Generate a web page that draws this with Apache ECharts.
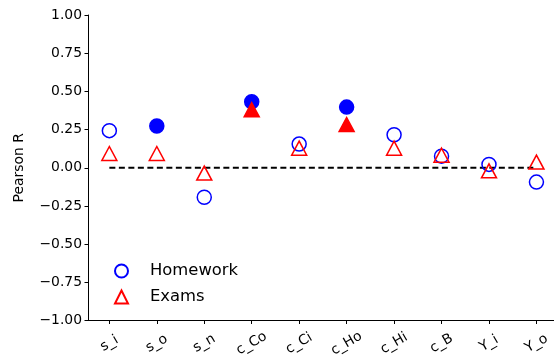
<!DOCTYPE html>
<html>
<head>
<meta charset="utf-8">
<script src="https://cdn.jsdelivr.net/npm/echarts@6/dist/echarts.min.js"></script>
<style>
  html, body { margin: 0; padding: 0; background: #fff; }
  #chart { width: 554px; height: 360px; }
</style>
</head>
<body>
<div id="chart"></div>
<script>
// Feature names along the x axis
const categories = ['s_i', 's_o', 's_n', 'c_Co', 'c_Ci', 'c_Ho', 'c_Hi', 'c_B', 'Y_i', 'Y_o'];

// Pearson correlation per feature
const homeworkR = [0.243, 0.273, -0.193, 0.432, 0.155, 0.397, 0.216, 0.076, 0.022, -0.094];
const examsR    = [0.093, 0.093, -0.035, 0.380, 0.128, 0.283, 0.128, 0.082, -0.020, 0.037];

// Significant correlations are drawn with filled markers
const homeworkSignificant = [false, true, false, true, false, true, false, false, false, false];
const examsSignificant    = [false, false, false, true, false, true, false, false, false, false];

// Y axis ticks
const yTicks = [-1, -0.75, -0.5, -0.25, 0, 0.25, 0.5, 0.75, 1];

const FONT = 'DejaVu Sans';
const BLUE = '#0000ff';
const RED = '#ff0000';
const idx = categories.map((_, i) => i);

function points(values, significant, color) {
  return values.map((v, i) => ({
    value: [i, v],
    itemStyle: significant[i]
      ? { color: color, borderColor: color, borderWidth: 1.5, opacity: 1 }
      : { color: 'rgba(0,0,0,0)', borderColor: color, borderWidth: 1.5, opacity: 1 }
  }));
}

const fmt = v => {
  const s = Math.abs(v).toFixed(2);
  return v < 0 ? '\u2212' + s : s;
};

const chart = echarts.init(document.getElementById('chart'), null, { renderer: 'canvas' });
chart.setOption({
  animation: false,
  backgroundColor: '#ffffff',
  textStyle: { fontFamily: FONT },
  grid: { left: 88, right: 0, top: 15, bottom: 39.5, containLabel: false },
  legend: {
    data: ['Homework', 'Exams'],
    orient: 'vertical',
    left: 109,
    top: 258,
    itemWidth: 13,
    itemHeight: 13,
    itemGap: 10,
    textStyle: { fontFamily: FONT, fontSize: 16.4, color: '#000', padding: [0, 0, 0, 17] }
  },
  xAxis: {
    type: 'value',
    min: -0.45,
    max: 9.37,
    axisLine: { show: true, onZero: false, lineStyle: { color: '#000', width: 1 } },
    splitLine: { show: false },
    axisTick: { show: true, length: 3.5, inside: false, customValues: idx, lineStyle: { color: '#000' } },
    axisLabel: {
      customValues: idx,
      formatter: v => categories[Math.round(v)],
      rotate: 30,
      align: 'center',
      verticalAlign: 'middle',
      margin: 23,
      fontFamily: FONT,
      fontSize: 13.9,
      color: '#000'
    }
  },
  yAxis: {
    type: 'value',
    min: yTicks[0],
    max: yTicks[yTicks.length - 1],
    interval: 0.25,
    name: 'Pearson R',
    nameLocation: 'middle',
    nameGap: 62,
    nameTextStyle: { fontFamily: FONT, fontSize: 13.9, color: '#000' },
    axisLine: { show: true, onZero: false, lineStyle: { color: '#000', width: 1 } },
    splitLine: { show: false },
    axisTick: { show: true, length: 3.5, lineStyle: { color: '#000' } },
    axisLabel: { formatter: fmt, fontFamily: FONT, fontSize: 13.9, color: '#000', margin: 6 }
  },
  series: [
    {
      name: 'zero',
      type: 'line',
      data: [[0, 0], [categories.length - 1, 0]],
      symbol: 'none',
      silent: true,
      lineStyle: { color: '#000', width: 2, type: [6, 3.5] },
      z: 1
    },
    {
      name: 'Homework',
      type: 'scatter',
      symbol: 'circle',
      symbolSize: 14,
      itemStyle: { color: 'rgba(0,0,0,0)', borderColor: BLUE, borderWidth: 1.5, opacity: 1 },
      data: points(homeworkR, homeworkSignificant, BLUE),
      z: 2
    },
    {
      name: 'Exams',
      type: 'scatter',
      symbol: 'triangle',
      symbolSize: [15, 14],
      itemStyle: { color: 'rgba(0,0,0,0)', borderColor: RED, borderWidth: 1.5, opacity: 1 },
      data: points(examsR, examsSignificant, RED),
      z: 3
    }
  ]
});
</script>
</body>
</html>
